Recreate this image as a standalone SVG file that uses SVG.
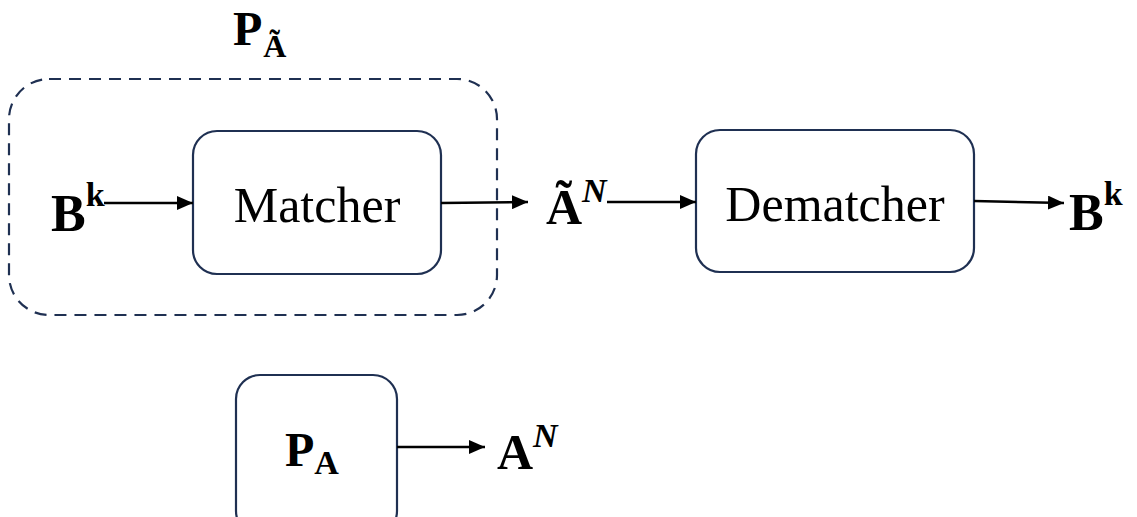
<svg xmlns="http://www.w3.org/2000/svg" width="1137" height="517" viewBox="0 0 1137 517">
<defs>
<marker id="arr" markerWidth="16" markerHeight="14" refX="16" refY="7" orient="auto" markerUnits="userSpaceOnUse" viewBox="0 0 16 14">
<path d="M0,0 L16,7 L0,14 z" fill="#000"/>
</marker>
<style>
.box{fill:#fff;stroke:#1f3052;stroke-width:2.2}
.dash{fill:none;stroke:#1f3052;stroke-width:2.2;stroke-dasharray:12 8}
.lbl{font-family:"Liberation Serif","Times New Roman",serif;font-size:50px;fill:#000}
.m{font-family:"Liberation Serif","DejaVu Serif",serif;font-weight:bold;fill:#000}
.edge{stroke:#000;stroke-width:2.5;fill:none}
</style>
</defs>
<rect width="1137" height="517" fill="#fff"/>
<g id="group-PA-tilde">
<rect class="dash" x="9" y="79" width="488" height="236" rx="40"/>
<text class="m" x="233" y="45" font-size="48">P<tspan font-size="32" dy="12" dx="1">Ã</tspan></text>
</g>
<g id="node-matcher">
<rect class="box" x="193" y="131" width="248" height="143" rx="24"/>
<text class="lbl" x="317" y="222" text-anchor="middle">Matcher</text>
</g>
<g id="node-dematcher">
<rect class="box" x="696" y="130" width="278" height="142" rx="24"/>
<text class="lbl" x="835" y="221" text-anchor="middle">Dematcher</text>
</g>
<g id="node-PA">
<rect class="box" x="236" y="375" width="161" height="160" rx="24"/>
<text class="m" x="285" y="466" font-size="48">P<tspan font-size="34" dy="8">A</tspan></text>
</g>
<g id="label-Bk-in">
<text class="m" x="51" y="231" font-size="52">B<tspan font-size="34" dy="-25">k</tspan></text>
</g>
<g id="label-AN-tilde">
<text class="m" x="546" y="224" font-size="50">Ã<tspan font-size="34" dy="-22" font-style="italic">N</tspan></text>
</g>
<g id="label-Bk-out">
<text class="m" x="1069" y="230" font-size="52">B<tspan font-size="34" dy="-25">k</tspan></text>
</g>
<g id="label-AN">
<text class="m" x="497" y="469" font-size="50">A<tspan font-size="34" dy="-22" font-style="italic">N</tspan></text>
</g>
<g id="connectors">
<line class="edge" x1="104" y1="203" x2="193" y2="203" marker-end="url(#arr)"/>
<line class="edge" x1="441" y1="203" x2="528" y2="202" marker-end="url(#arr)"/>
<line class="edge" x1="607" y1="202" x2="696" y2="202" marker-end="url(#arr)"/>
<line class="edge" x1="974" y1="201" x2="1064" y2="203" marker-end="url(#arr)"/>
<line class="edge" x1="397" y1="447" x2="485" y2="447" marker-end="url(#arr)"/>
</g>
</svg>
